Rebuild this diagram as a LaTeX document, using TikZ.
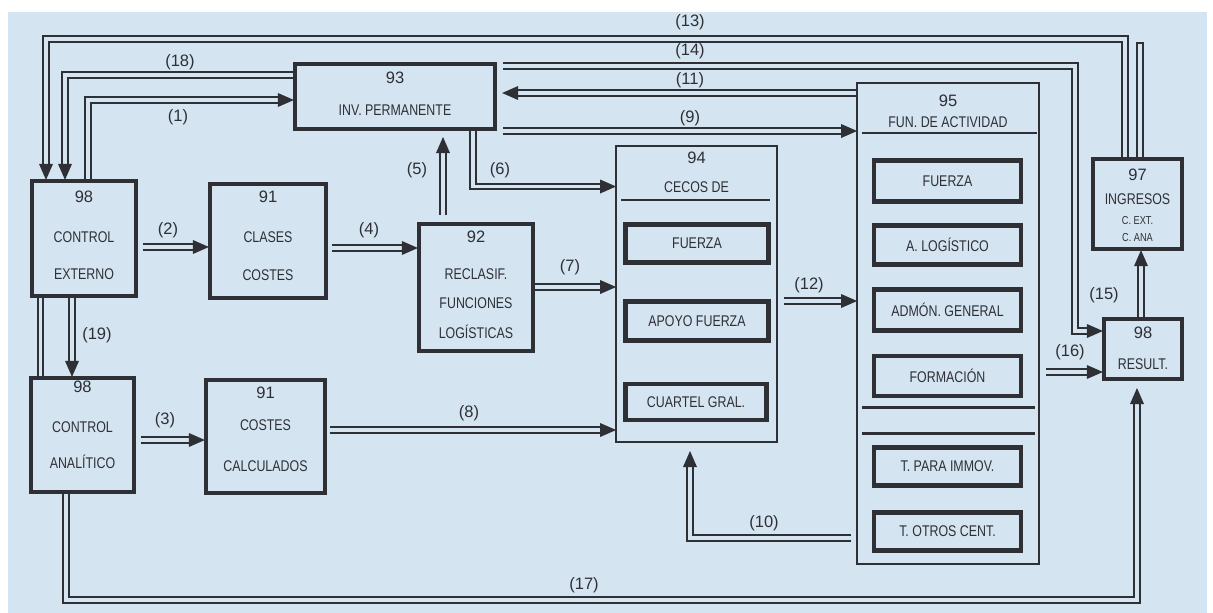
\documentclass[tikz,border=0pt]{standalone}
\usepackage{fontspec}
\setmainfont{Liberation Sans}
\newfontfamily\narrowf{Liberation Sans}[FakeStretch=0.8]
\usetikzlibrary{decorations.markings}
\definecolor{bgc}{RGB}{212,228,240}
\definecolor{ln}{RGB}{46,48,54}
\tikzset{
  dbl/.style={draw=ln, line width=1.9pt, double=bgc, double distance=3.6pt, line join=miter},
  arr/.style={dbl, shorten >=11pt, postaction={decorate, decoration={markings,
      mark=at position 1 with {\fill[ln] (1pt,0pt) -- (-15pt,7pt) -- (-15pt,-7pt) -- cycle;}}}},
  tbox/.style={draw=ln, line width=4.2pt, inner sep=0pt},
  thin/.style={draw=ln, line width=2.3pt, inner sep=0pt},
  ibox/.style={draw=ln, line width=4.5pt, inner sep=0pt, minimum width=147pt,
      font=\narrowf\fontsize{15.5}{17}\selectfont, text=ln},
  txt/.style={font=\narrowf\fontsize{15.5}{17}\selectfont, text=ln, inner sep=0pt},
  num/.style={font=\fontsize{16.5}{18}\selectfont, text=ln, inner sep=0pt},
  small/.style={font=\narrowf\fontsize{11.5}{13}\selectfont, text=ln, inner sep=0pt},
  lab/.style={font=\fontsize{16.5}{18}\selectfont, text=ln, inner sep=0pt},
  sep/.style={draw=ln, line width=2.5pt},
}
\begin{document}
\begin{tikzpicture}[x=1pt,y=-1pt]
\useasboundingbox (0,0) rectangle (1213,613);
\fill[white] (0,0) rectangle (1213,613);
\fill[bgc] (8,12) rectangle (1207,613);

% ---------- boxes ----------
\node[tbox, minimum width=104pt, minimum height=115pt] (CE) at (84,238.5) {};
\node[tbox, minimum width=116pt, minimum height=114pt] (CC) at (268,241) {};
\node[tbox, minimum width=114pt, minimum height=127pt] (RF) at (476,287.5) {};
\node[tbox, minimum width=200pt, minimum height=65pt] (IP) at (395,96.5) {};
\node[tbox, minimum width=103pt, minimum height=114pt] (CA) at (82.5,435) {};
\node[tbox, minimum width=119pt, minimum height=113pt] (CCalc) at (265.5,436.5) {};
\node[thin, minimum width=160.5pt, minimum height=295.5pt] (B94) at (696.5,294) {};
\node[thin, minimum width=181.5pt, minimum height=480.5pt] (B95) at (948,323.5) {};
\node[tbox, minimum width=89pt, minimum height=90pt] (IN) at (1137.5,204) {};
\node[tbox, minimum width=78pt, minimum height=60pt] (RS) at (1143,349) {};

% inner boxes of 94
\node[ibox, minimum width=143pt, minimum height=38pt] (F94) at (697,243.5) {FUERZA};
\node[ibox, minimum width=143pt, minimum height=39pt] (AF94) at (697,321) {APOYO FUERZA};
\node[ibox, minimum width=141pt, minimum height=36pt] (CG94) at (696,402) {CUARTEL GRAL.};
% inner boxes of 95
\node[ibox, minimum height=41pt] (F95) at (947.5,181) {FUERZA};
\node[ibox, minimum height=39pt] (AL95) at (947.5,245) {A. LOGÍSTICO};
\node[ibox, minimum height=41pt] (AG95) at (947.5,310) {ADMÓN. GENERAL};
\node[ibox, minimum height=40pt] (FO95) at (947.5,376) {FORMACIÓN};
\node[ibox, minimum height=38pt] (TP95) at (947.5,466.5) {T. PARA IMMOV.};
\node[ibox, minimum height=38pt] (TO95) at (947.5,531.5) {T. OTROS CENT.};

% separators
\draw[sep] (621,200) -- (770,200);
\draw[sep] (862,133) -- (1037,133);
\draw[sep, line width=3pt] (862,407) -- (1035,407);
\draw[sep, line width=3pt] (862,433) -- (1035,433);

% ---------- box texts ----------
\node[num] (tCE1) at (84,197) {98};
\node[txt] (tCE2) at (84,237) {CONTROL};
\node[txt] (tCE3) at (84,274) {EXTERNO};
\node[num] (tCC1) at (268,197) {91};
\node[txt] (tCC2) at (268,237) {CLASES};
\node[txt] (tCC3) at (268,275) {COSTES};
\node[num] (tRF1) at (476,237) {92};
\node[txt] (tRF2) at (476,274) {RECLASIF.};
\node[txt] (tRF3) at (476,303) {FUNCIONES};
\node[txt] (tRF4) at (476,332) {LOGÍSTICAS};
\node[num] (tIP1) at (395,78) {93};
\node[txt] (tIP2) at (395,110) {INV. PERMANENTE};
\node[num] (tCA1) at (82.5,387) {98};
\node[txt] (tCA2) at (82.5,427) {CONTROL};
\node[txt] (tCA3) at (82.5,462) {ANALÍTICO};
\node[num] (tCK1) at (265.5,393) {91};
\node[txt] (tCK2) at (265.5,425) {COSTES};
\node[txt] (tCK3) at (265.5,466) {CALCULADOS};
\node[num] (t941) at (696.5,158) {94};
\node[txt] (t942) at (696.5,187) {CECOS DE};
\node[num] (t951) at (948,101) {95};
\node[txt] (t952) at (948,122) {FUN. DE ACTIVIDAD};
\node[num] (tIN1) at (1137.5,175) {97};
\node[txt] (tIN2) at (1137.5,199) {INGRESOS};
\node[small] (tIN3) at (1137.5,221) {C. EXT.};
\node[small] (tIN4) at (1137.5,238) {C. ANA};
\node[num] (tRS1) at (1143,333) {98};
\node[txt] (tRS2) at (1143,364) {RESULT.};

% ---------- connectors ----------
% (13)
\coordinate (k13a) at (1125,39);
\coordinate (k13b) at (46,39);
\draw[arr] (IN.north -| k13a) -- (k13a) -- (k13b) -- (CE.north -| k13b);
\coordinate (k13s) at (1140,43);
\draw[dbl] (IN.north -| k13s) -- (k13s);
\draw[ln, line width=1.9pt] ([xshift=-3.7pt]k13s) -- ([xshift=3.7pt]k13s);
% (18)
\coordinate (k18) at (65,75);
\draw[arr] (IP.west |- k18) -- (k18) -- (CE.north -| k18);
% (1)
\coordinate (k1) at (88,100);
\draw[arr] (CE.north -| k1) -- (k1) -- (IP.west |- k1);
% (14)
\coordinate (k14a) at (1075,66);
\coordinate (k14b) at (1075,331);
\draw[arr] ([xshift=6pt]IP.east |- k14a) -- (k14a) -- (k14b) -- (RS.west |- k14b);
% (11)
\coordinate (k11) at (700,93);
\draw[arr] (B95.west |- k11) -- ([xshift=6pt]IP.east |- k11);
% (9)
\coordinate (k9) at (700,131);
\draw[arr] ([xshift=6pt]IP.east |- k9) -- (B95.west |- k9);
% (5)
\coordinate (k5) at (443,170);
\coordinate (k5e) at (443,138);
\draw[arr] ([yshift=7pt]RF.north -| k5) -- (k5e);
% (6)
\coordinate (k6) at (473,186.5);
\draw[arr] (IP.south -| k6) -- (k6) -- (B94.west |- k6);
% (2)
\coordinate (k2) at (170,247);
\draw[arr] ([xshift=5pt]CE.east |- k2) -- (CC.west |- k2);
% (4)
\coordinate (k4) at (370,248);
\draw[arr] ([xshift=4pt]CC.east |- k4) -- (RF.west |- k4);
% (7)
\coordinate (k7) at (570,287);
\draw[arr] (RF.east |- k7) -- (B94.west |- k7);
% (8)
\coordinate (k8) at (470,430);
\draw[arr] ([xshift=3pt]CCalc.east |- k8) -- (B94.west |- k8);
% (3)
\coordinate (k3) at (170,440);
\draw[arr] ([xshift=5pt]CA.east |- k3) -- (CCalc.west |- k3);
% (12)
\coordinate (k12) at (810,301);
\draw[arr] ([xshift=6pt]B94.east |- k12) -- (B95.west |- k12);
% (10)
\coordinate (k10) at (690,538);
\coordinate (k10e) at (690,452);
\draw[arr] ([xshift=-5pt]B95.west |- k10) -- (k10) -- (k10e);
% (15)
\coordinate (k15) at (1141,290);
\draw[arr] (RS.north -| k15) -- (IN.south -| k15);
% (16)
\coordinate (k16) at (1070,372);
\draw[arr] ([xshift=6pt]B95.east |- k16) -- (RS.west |- k16);
% (17)
\coordinate (k17a) at (66,600);
\coordinate (k17b) at (1137,600);
\coordinate (k17e) at (1137,389);
\draw[arr] (CA.south -| k17a) -- (k17a) -- (k17b) -- (k17e);
% (19)
\coordinate (k19) at (72,335);
\draw[arr] (CE.south -| k19) -- (CA.north -| k19);
% unlabeled CE -- CA
\coordinate (k0) at (40.5,335);
\draw[dbl] (CE.south -| k0) -- (CA.north -| k0);

% ---------- connector labels ----------
\node[lab] (l13) at (690,22) {(13)};
\node[lab] (l14) at (690,51) {(14)};
\node[lab] (l11) at (690,80) {(11)};
\node[lab] (l9) at (690,118) {(9)};
\node[lab] (l18) at (180,62) {(18)};
\node[lab] (l1) at (178,117) {(1)};
\node[lab] (l5) at (417,170) {(5)};
\node[lab] (l6) at (500,170) {(6)};
\node[lab] (l2) at (168,230) {(2)};
\node[lab] (l4) at (369,230) {(4)};
\node[lab] (l7) at (570,267) {(7)};
\node[lab] (l12) at (809,285) {(12)};
\node[lab] (l15) at (1104,295) {(15)};
\node[lab] (l16) at (1070,352) {(16)};
\node[lab] (l19) at (97,335) {(19)};
\node[lab] (l3) at (165,420) {(3)};
\node[lab] (l8) at (469,413) {(8)};
\node[lab] (l10) at (764,523) {(10)};
\node[lab] (l17) at (584,585) {(17)};
\end{tikzpicture}
\end{document}
